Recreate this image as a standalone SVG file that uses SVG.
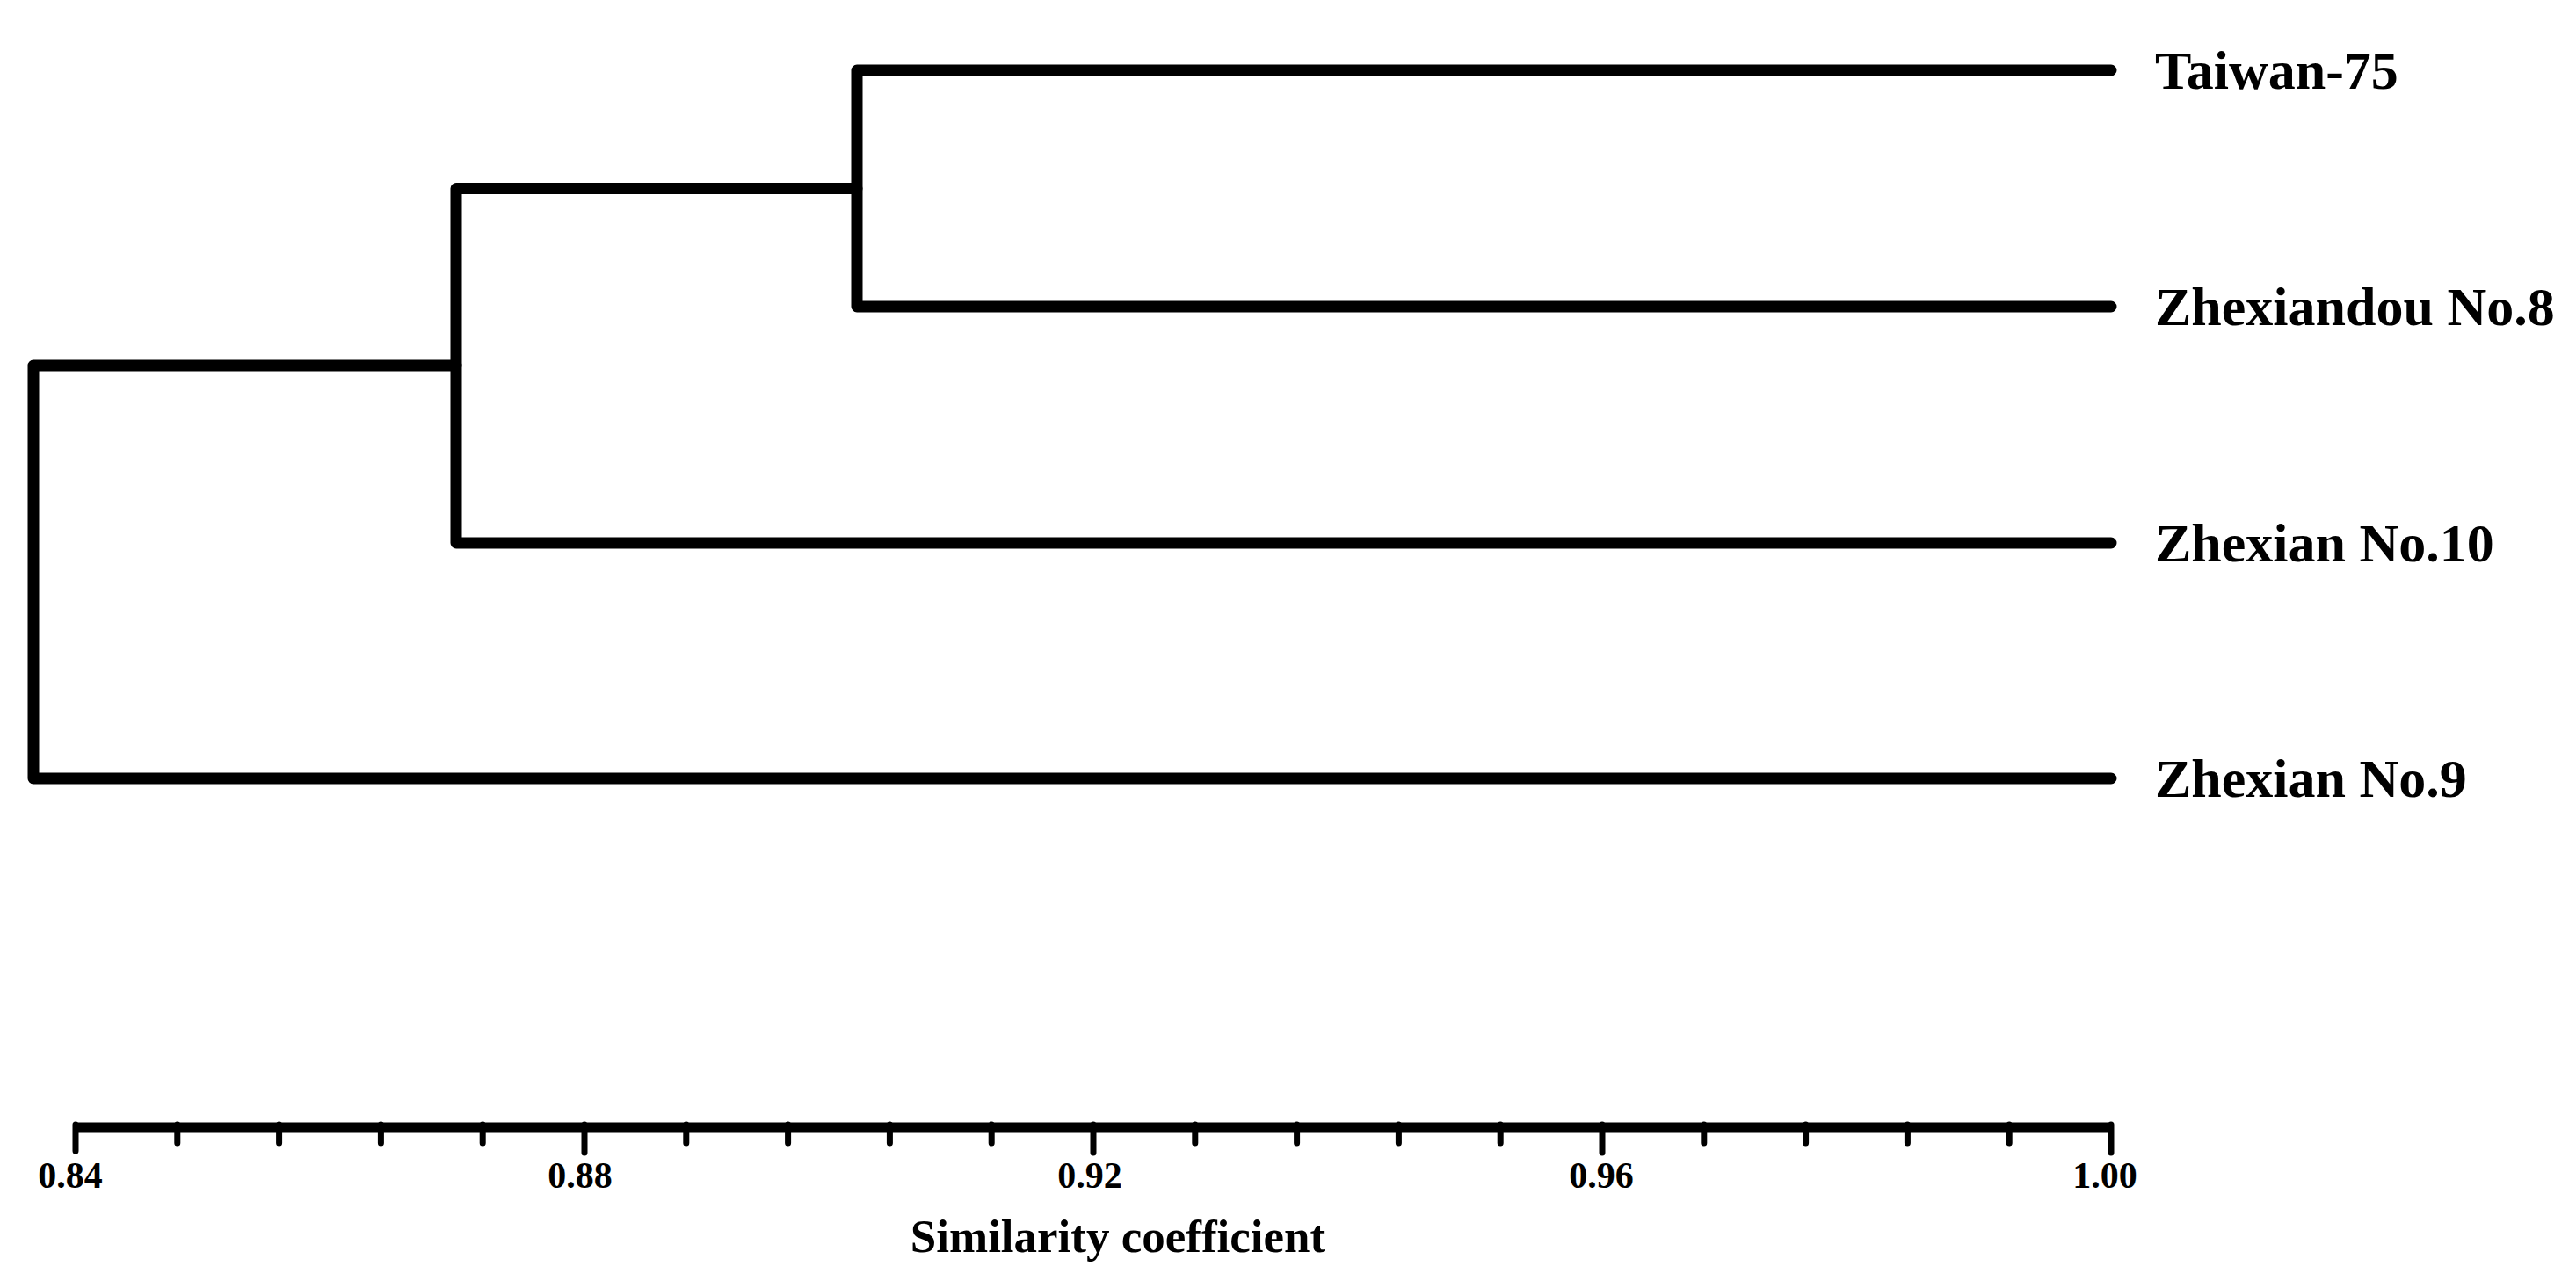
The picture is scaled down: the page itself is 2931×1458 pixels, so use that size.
<svg xmlns="http://www.w3.org/2000/svg" width="2931" height="1458" viewBox="0 0 2931 1458">
<style>
.br{fill:none;stroke:#000;stroke-width:13;stroke-linecap:round;stroke-linejoin:round}
.ax{fill:none;stroke:#000;stroke-width:11;stroke-linecap:butt}
.tk{fill:none;stroke:#000;stroke-width:7;stroke-linecap:round}
.lab{font-family:"Liberation Serif","Times New Roman",serif;font-weight:bold;font-size:62px;fill:#000}
.tl{font-family:"Liberation Serif","Times New Roman",serif;font-weight:bold;font-size:42px;fill:#000;text-anchor:middle}
.tt{font-family:"Liberation Serif","Times New Roman",serif;font-weight:bold;font-size:53px;fill:#000;text-anchor:middle}
</style>
<rect width="2931" height="1458" fill="#fff"/>
<g id="connectors">
<path class="br" d="M2402 80H975V349H2402"/>
<path class="br" d="M975 214.5H519V618H2402"/>
<path class="br" d="M519 416H38V886H2402"/>
</g>
<g id="node-taiwan75"><text class="lab" x="2452" y="101">Taiwan-75</text></g>
<g id="node-zhexiandou8"><text class="lab" x="2452" y="370">Zhexiandou No.8</text></g>
<g id="node-zhexian10"><text class="lab" x="2452" y="639">Zhexian No.10</text></g>
<g id="node-zhexian9"><text class="lab" x="2452" y="907">Zhexian No.9</text></g>
<g id="axis">
<path class="ax" d="M86 1283H2402"/>
<path class="tk" d="M86 1280V1310M665 1280V1312M1244 1280V1312M1823 1280V1312M2402 1280V1312"/>
<path class="tk" d="M201.8 1280V1301M317.6 1280V1301M433.4 1280V1301M549.2 1280V1301M780.8 1280V1301M896.6 1280V1301M1012.4 1280V1301M1128.2 1280V1301M1359.8 1280V1301M1475.6 1280V1301M1591.4 1280V1301M1707.2 1280V1301M1938.8 1280V1301M2054.6 1280V1301M2170.4 1280V1301M2286.2 1280V1301"/>
<text class="tl" x="80" y="1352">0.84</text>
<text class="tl" x="660" y="1352">0.88</text>
<text class="tl" x="1240" y="1352">0.92</text>
<text class="tl" x="1822" y="1352">0.96</text>
<text class="tl" x="2395" y="1352">1.00</text>
<text class="tt" x="1272" y="1425">Similarity coefficient</text>
</g>
</svg>
